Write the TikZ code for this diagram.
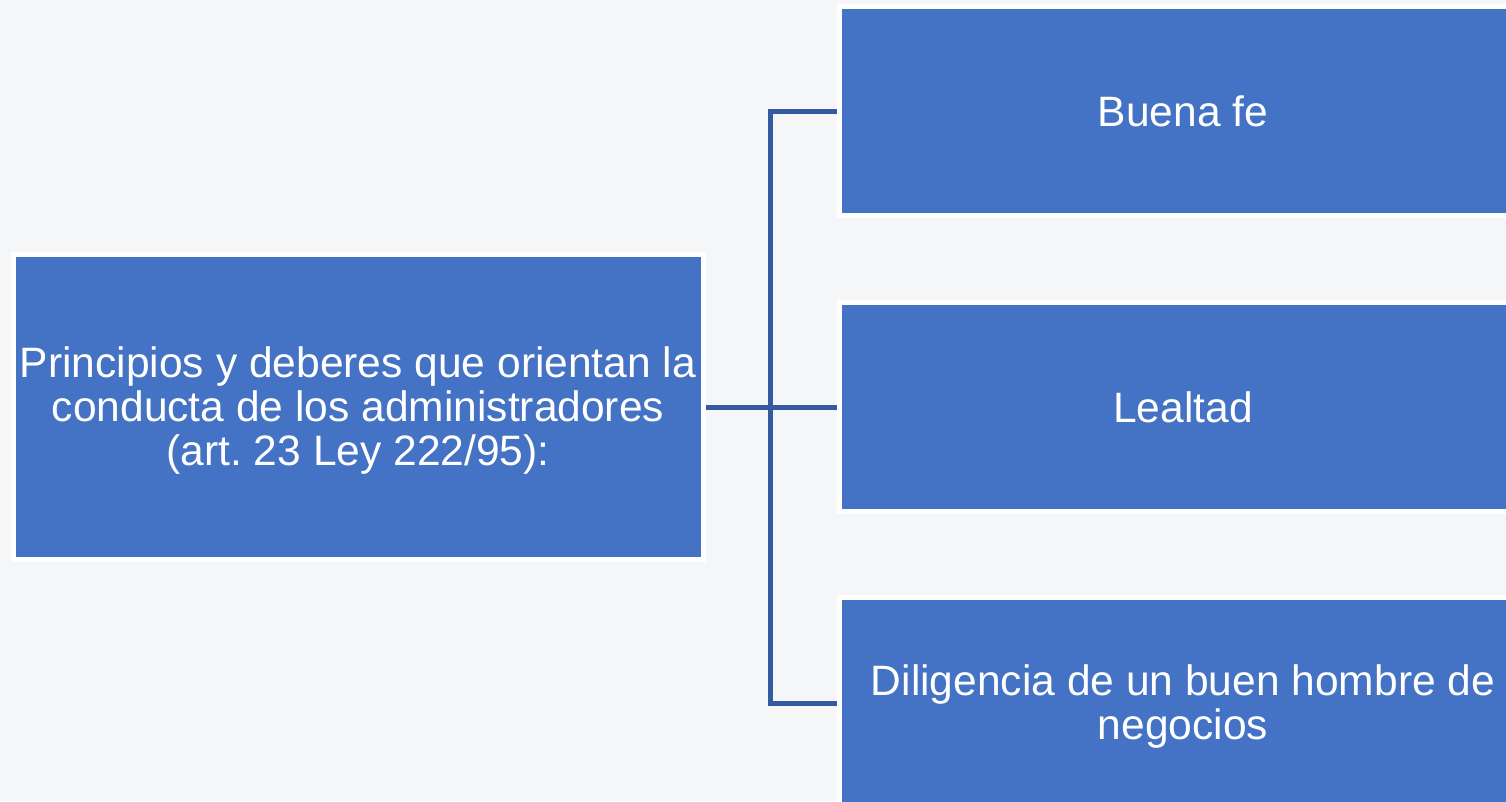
\documentclass[tikz,border=0pt]{standalone}
\usepackage{fontspec}
\setmainfont{Liberation Sans}
\frenchspacing
\definecolor{bgc}{HTML}{F5F6F8}
\definecolor{boxblue}{HTML}{4472C4}
\definecolor{linkblue}{RGB}{52,90,160}
\begin{document}
\begin{tikzpicture}[x=0.75pt,y=-0.75pt,
  box/.style={fill=boxblue,draw=white,line width=3.75pt,text=white,align=center,
    inner sep=0pt,font=\fontsize{31.9}{33}\selectfont},
  link/.style={draw=linkblue,line width=3.75pt,line join=miter}]
\useasboundingbox (0,0) rectangle (1506,801);
\clip (0,0) rectangle (1506,801);
\fill[bgc] (0,0) rectangle (1506,801);
\node[box,minimum width=690*0.75pt,minimum height=305*0.75pt] (main) at (358,407)
  {\rule{0pt}{28pt}Principios y deberes que orientan la\\conducta de los administradores\\(art. 23 Ley 222/95):};
\node[box,minimum width=688*0.75pt,minimum height=209*0.75pt] (b1) at (1183,111) {Buena fe};
\node[box,minimum width=688*0.75pt,minimum height=209*0.75pt] (b2) at (1183,407) {Lealtad};
\node[box,minimum width=688*0.75pt,minimum height=211*0.75pt] (b3) at (1183,703)
  {\rule{0pt}{28pt}Diligencia de un buen hombre de\\negocios};
\coordinate (j) at (770,407);
\draw[link] (main.east) -- (j);
\draw[link] (b1.west) -| (j) |- (b3.west);
\draw[link] (j) -- (b2.west);
\end{tikzpicture}
\end{document}
